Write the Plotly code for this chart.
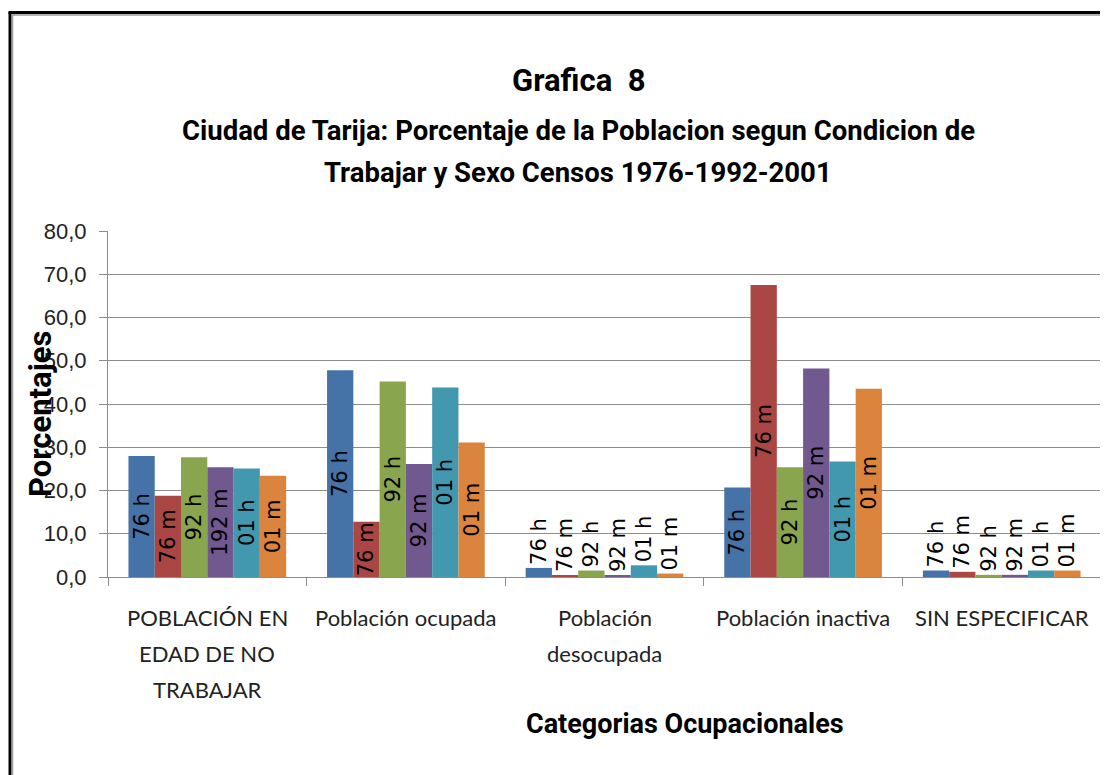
import plotly.graph_objects as go

categories = ["POBLACIÓN EN EDAD DE NO TRABAJAR", "Población ocupada",
              "Población desocupada", "Población inactiva", "SIN ESPECIFICAR"]
category_lines = [["POBLACIÓN EN", "EDAD DE NO", "TRABAJAR"],
                  ["Población ocupada"],
                  ["Población", "desocupada"],
                  ["Población inactiva"],
                  ["SIN ESPECIFICAR"]]

series_names = ["76 h", "76 m", "92 h", "92 m", "01 h", "01 m"]

v76h = [28.0, 47.8, 2.1, 20.7, 1.5]
v76m = [18.8, 12.8, 0.4, 67.5, 1.2]
v92h = [27.7, 45.2, 1.5, 25.4, 0.5]
v92m = [25.4, 26.1, 0.4, 48.2, 0.5]
v01h = [25.1, 43.8, 2.7, 26.7, 1.5]
v01m = [23.4, 31.1, 0.8, 43.5, 1.5]

labels76h = ["76 h"] * 5
labels76m = ["76 m"] * 5
labels92h = ["92 h"] * 5
labels92m = ["192 m", "92 m", "92 m", "92 m", "92 m"]
labels01h = ["01 h"] * 5
labels01m = ["01 m"] * 5

y_ticks = [0, 10, 20, 30, 40, 50, 60, 70, 80]

title_main = "Grafica  8"
title_sub1 = "Ciudad de Tarija: Porcentaje de la Poblacion segun Condicion de"
title_sub2 = "Trabajar y Sexo Censos 1976-1992-2001"
y_title = "Porcentajes"
x_title = "Categorias Ocupacionales"

colors = ["#4572A7", "#AA4643", "#89A54E", "#71588F", "#4198AF", "#DB843D"]

TITLE_FONT = "Roboto, Lato, sans-serif"
CAT_FONT = "Lato, Roboto, sans-serif"
LABEL_FONT = "DejaVu Sans, Verdana, sans-serif"

all_values = [v76h, v76m, v92h, v92m, v01h, v01m]
all_labels = [labels76h, labels76m, labels92h, labels92m, labels01h, labels01m]

fig = go.Figure()
for name, vals, labs, col in zip(series_names, all_values, all_labels, colors):
    fig.add_trace(go.Bar(
        name=name, x=categories, y=vals, text=labs,
        textposition=["inside" if v >= 5 else "outside" for v in vals],
        insidetextanchor="middle",
        textangle=-90,
        constraintext="none",
        cliponaxis=False,
        textfont=dict(family=LABEL_FONT, size=21, color="black"),
        marker=dict(color=col, line=dict(width=0)),
    ))

# page body has an 8px margin: figure is 1100x767, drawn at (8, 8)
fig.update_layout(
    width=1100, height=767,
    barmode="group", bargap=0.206, bargroupgap=0,
    showlegend=False,
    paper_bgcolor="white", plot_bgcolor="white",
    margin=dict(l=100, r=7, t=223, b=198),
    separators=",.",
    yaxis=dict(range=[0, 80], tickvals=y_ticks, tickformat=".1f",
               showgrid=True, gridcolor="#8c8c8c", gridwidth=1,
               showline=True, linecolor="#8c8c8c", linewidth=1,
               ticks="outside", ticklen=8, tickcolor="#8c8c8c",
               ticklabelstandoff=8,
               tickfont=dict(family="Liberation Sans, Arial, sans-serif", size=22, color="#222"),
               zeroline=False),
    xaxis=dict(showticklabels=False, showline=True, linecolor="#8c8c8c", linewidth=1,
               ticks="outside", ticklen=8, tickcolor="#8c8c8c", tickson="boundaries"),
)

annotations = [
    dict(text=f"<b>{title_main}</b>", xref="paper", yref="paper", x=(578 - 108) / 993, y=1,
         yshift=231 - 80, xanchor="center", yanchor="middle", showarrow=False,
         font=dict(family=TITLE_FONT, size=31, color="black")),
    dict(text=f"<b>{title_sub1}</b>", xref="paper", yref="paper", x=(578 - 108) / 993, y=1,
         yshift=231 - 130, xanchor="center", yanchor="middle", showarrow=False,
         font=dict(family=TITLE_FONT, size=27.5, color="black")),
    dict(text=f"<b>{title_sub2}</b>", xref="paper", yref="paper", x=(578 - 108) / 993, y=1,
         yshift=231 - 172, xanchor="center", yanchor="middle", showarrow=False,
         font=dict(family=TITLE_FONT, size=27.5, color="black")),
    dict(text=f"<b>{y_title}</b>", xref="paper", yref="paper", x=0, y=0.5,
         xshift=-68, yshift=-10, xanchor="center", yanchor="middle", textangle=-90,
         showarrow=False, font=dict(family=TITLE_FONT, size=31, color="black")),
    dict(text=f"<b>{x_title}</b>", xref="paper", yref="paper", x=(685 - 108) / 993, y=0,
         yshift=-(724 - 577), xanchor="center", yanchor="middle", showarrow=False,
         font=dict(family=TITLE_FONT, size=27, color="black")),
]
for cat, lines in zip(categories, category_lines):
    for i, line in enumerate(lines):
        annotations.append(dict(text=line, xref="x", yref="paper", x=cat, y=0,
                                yshift=-(40 + 36 * i), xanchor="center", yanchor="middle",
                                showarrow=False,
                                font=dict(family=CAT_FONT, size=22, color="#222")))
fig.update_layout(annotations=annotations)

shapes = [
    dict(type="line", xref="paper", yref="paper", xsizemode="pixel", ysizemode="pixel",
         xanchor=0, yanchor=1, x0=-98, x1=-98, y0=219, y1=-700,
         line=dict(color="black", width=3)),
    dict(type="line", xref="paper", yref="paper", xsizemode="pixel", ysizemode="pixel",
         xanchor=0, yanchor=1, x0=-95.5, x1=-95.5, y0=217, y1=-700,
         line=dict(color="#9a9a9a", width=1.5)),
    dict(type="line", xref="paper", yref="paper", xsizemode="pixel", ysizemode="pixel",
         xanchor=0, yanchor=1, x0=-99.5, x1=1100, y0=218.5, y1=218.5,
         line=dict(color="black", width=3)),
    dict(type="line", xref="paper", yref="paper", xsizemode="pixel", ysizemode="pixel",
         xanchor=0, yanchor=1, x0=-96.5, x1=1100, y0=216, y1=216,
         line=dict(color="#9a9a9a", width=1.5)),
]
fig.update_layout(shapes=shapes)

fig.write_html("out.html")
